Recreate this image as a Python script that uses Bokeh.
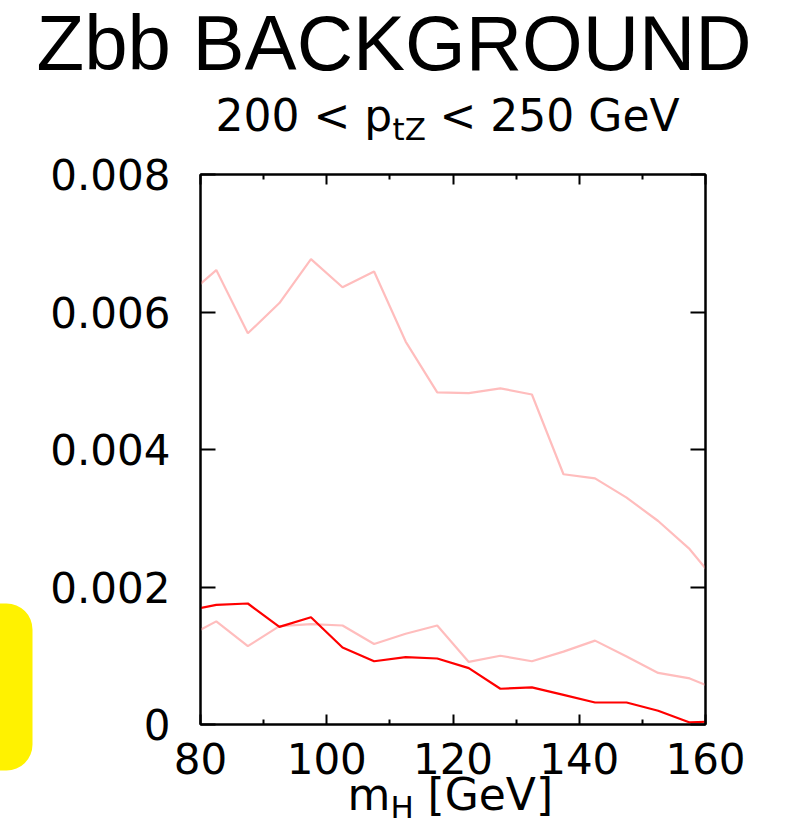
from bokeh.plotting import figure
from bokeh.models import Range1d, LinearAxis, FixedTicker, ColumnDataSource
from bokeh.core.properties import value
from bokeh.embed import file_html
from bokeh.resources import INLINE

# ---------------- data ----------------
m_H = [77.5, 82.5, 87.5, 92.5, 97.5, 102.5, 107.5, 112.5, 117.5,
       122.5, 127.5, 132.5, 137.5, 142.5, 147.5, 152.5, 157.5, 162.5]
upper_pale = [0.00621, 0.00661, 0.00569, 0.00613, 0.00677, 0.00636, 0.00659, 0.00557, 0.00483,
              0.00482, 0.00489, 0.00480, 0.00364, 0.00358, 0.00330, 0.00296, 0.00255, 0.00199]
lower_pale = [0.00126, 0.00150, 0.00114, 0.00143, 0.00146, 0.00144, 0.00117, 0.00132, 0.00144,
              0.00091, 0.00100, 0.00092, 0.00106, 0.00122, 0.00099, 0.00075, 0.00067, 0.00048]
red_line = [0.00165, 0.00174, 0.00176, 0.00142, 0.00156, 0.00112, 0.00092, 0.00098, 0.00096,
            0.00082, 0.00052, 0.00054, 0.00043, 0.00032, 0.00032, 0.00020, 0.00003, 0.00005]

x_ticks = [80, 100, 120, 140, 160]
x_minor_ticks = [90, 110, 130, 150]
x_tick_labels = ["80", "100", "120", "140", "160"]
y_ticks = [0, 0.002, 0.004, 0.006, 0.008]
y_tick_labels = ["0", "0.002", "0.004", "0.006", "0.008"]

title_text = "Zbb BACKGROUND"
sub_main = ["200 < p", "< 250 GeV"]
sub_low = ["tZ"]
xlabel_main = ["m", "[GeV]"]
xlabel_low = ["H"]

# ---------------- layout constants (pixels) ----------------
W_TOTAL, H_TOTAL = 783, 828
FRAME_L, FRAME_T, FRAME_W, FRAME_H = 200, 174, 505, 550
FRAME_B = FRAME_T + FRAME_H
X0, X1 = 80, 160
Y0, Y1 = 0.0, 0.008
MID = 0.385  # text drawn centred: centre = baseline - MID * font size


def px_to_x(px):
    return X0 + (px - FRAME_L) * (X1 - X0) / FRAME_W


def py_to_y(py):
    return Y0 + (FRAME_B - py) * (Y1 - Y0) / FRAME_H


# ---------------- figure ----------------
p = figure(frame_width=FRAME_W, frame_height=FRAME_H,
           min_border_left=FRAME_L, min_border_right=W_TOTAL - FRAME_L - FRAME_W,
           min_border_top=FRAME_T, min_border_bottom=H_TOTAL - FRAME_B,
           x_range=Range1d(X0, X1), y_range=Range1d(Y0, Y1),
           output_backend="svg", toolbar_location=None,
           x_axis_location=None, y_axis_location=None)
p.grid.visible = False
p.background_fill_color = "white"
p.border_fill_color = "white"
p.outline_line_color = "black"
p.outline_line_width = 2

src = ColumnDataSource(dict(x=m_H, up=upper_pale, lo=lower_pale, red=red_line))
p.line("x", "up", source=src, line_color="#ffbdbd", line_width=2.2)
p.line("x", "lo", source=src, line_color="#ffbdbd", line_width=2.2)
p.line("x", "red", source=src, line_color="#ff0000", line_width=2.2)

TICK_FONT = "DejaVu Sans"
TICK_SIZE = "42px"


def style_axis(ax, show_labels, major_len):
    ax.axis_line_color = "black"
    ax.axis_line_width = 2
    ax.major_tick_in = major_len
    ax.major_tick_out = 0
    ax.minor_tick_in = 5
    ax.minor_tick_out = 0
    ax.major_tick_line_width = 2
    ax.minor_tick_line_width = 2
    ax.major_tick_line_color = "black"
    ax.minor_tick_line_color = "black"
    ax.major_label_text_font = TICK_FONT
    ax.major_label_text_font_size = TICK_SIZE
    ax.major_label_text_color = "black"
    if not show_labels:
        ax.major_label_text_font_size = "0px"
        ax.major_label_text_color = None
        ax.major_label_standoff = 0


xt = FixedTicker(ticks=x_ticks, minor_ticks=x_minor_ticks)
yt = FixedTicker(ticks=y_ticks, minor_ticks=[])

bottom = LinearAxis(ticker=xt)
style_axis(bottom, True, 10)
bottom.major_label_overrides = dict(zip(x_ticks, x_tick_labels))
bottom.major_label_standoff = 18
p.add_layout(bottom, "below")

topax = LinearAxis(ticker=xt)
style_axis(topax, False, 10)
p.add_layout(topax, "above")

left = LinearAxis(ticker=yt)
style_axis(left, True, 15)
left.major_label_overrides = dict(zip(y_ticks, y_tick_labels))
left.major_label_standoff = 30
p.add_layout(left, "left")

right = LinearAxis(ticker=yt)
style_axis(right, False, 15)
p.add_layout(right, "right")


def add_text(texts, px_list, baseline_py, size, font, anchor_y, anchor_py):
    r = p.text(x=[px_to_x(v) for v in px_list], y=[anchor_y] * len(texts), text=texts,
               text_font=value(font), text_font_size=f"{size}px", text_color="black",
               text_baseline="middle", text_align="left",
               y_offset=(baseline_py - MID * size) - anchor_py)
    r.level = "overlay"  # drawn outside the frame without clipping
    return r


# title and subtitle above the frame
add_text([title_text], [36], 73, 78, "Liberation Sans", Y1, FRAME_T)
add_text(sub_main, [215, 439], 132, 44, "DejaVu Sans", Y1, FRAME_T)
add_text(sub_low, [392], 140, 31, "DejaVu Sans", Y1, FRAME_T)

# x-axis title m_H [GeV]
add_text(xlabel_main, [347, 427], 811, 44, "DejaVu Sans", Y0, FRAME_B)
add_text(xlabel_low, [390], 818, 31, "DejaVu Sans", Y0, FRAME_B)

# yellow rounded tab at the left page edge
tab = p.quad(left=[px_to_x(-30)], right=[px_to_x(32)],
             top=[py_to_y(603)], bottom=[py_to_y(770)],
             fill_color="#fff200", line_color=None, border_radius=(0, 26, 26, 0))
tab.level = "overlay"

open("out.html", "w").write(file_html(p, INLINE))
